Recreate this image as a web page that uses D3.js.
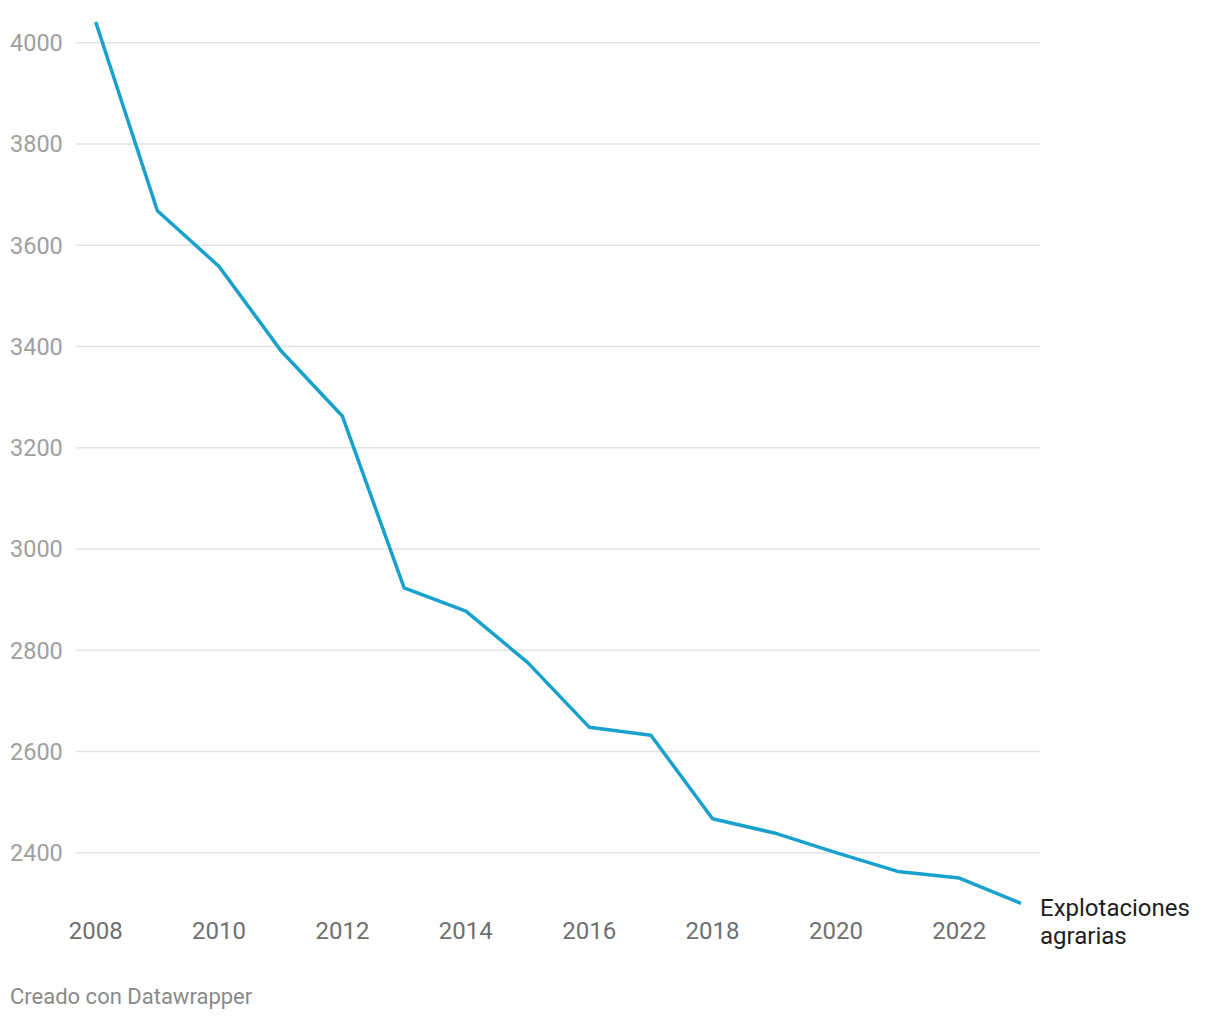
<!DOCTYPE html>
<html>
<head>
<meta charset="utf-8">
<script src="https://cdn.jsdelivr.net/npm/d3@7"></script>
<style>
  body { margin: 0; background: #fff; font-family: Roboto, "Noto Sans", sans-serif; }
  .ylab text { fill: #a0a0a0; }
  .xlab text { fill: #6f6f6f; }
</style>
</head>
<body>
<div id="chart"></div>
<script>
// explotaciones agrarias por año
var years = [2008, 2009, 2010, 2011, 2012, 2013, 2014, 2015, 2016, 2017, 2018, 2019, 2020, 2021, 2022, 2023];
var values = [4041, 3668, 3558, 3392, 3262, 2923, 2877, 2776, 2648, 2632, 2467, 2439, 2400, 2363, 2350, 2300];
var yTicks = [2400, 2600, 2800, 3000, 3200, 3400, 3600, 3800, 4000];
var xTicks = [2008, 2010, 2012, 2014, 2016, 2018, 2020, 2022];
var seriesName = ["Explotaciones", "agrarias"];

var width = 1220, height = 1020;
var svg = d3.select("#chart").append("svg")
    .attr("width", width)
    .attr("height", height);

var x = d3.scaleLinear().domain([2008, 2023]).range([95.7, 1021]);
var y = d3.scaleLinear().domain([2400, 4000]).range([852.7, 42.7]);

// grid lines + y labels
var ygrid = svg.append("g").attr("class", "ylab");
ygrid.selectAll("line").data(yTicks).enter().append("line")
    .attr("x1", 76).attr("x2", 1040)
    .attr("y1", function(d) { return y(d); })
    .attr("y2", function(d) { return y(d); })
    .attr("stroke", "#e3e3e3")
    .attr("stroke-width", 1.5);
ygrid.selectAll("text").data(yTicks).enter().append("text")
    .attr("x", 10)
    .attr("y", function(d) { return y(d) + 8.3; })
    .attr("font-size", 23.5)
    .text(function(d) { return d; });

// x labels
svg.append("g").attr("class", "xlab")
    .selectAll("text").data(xTicks).enter().append("text")
    .attr("x", function(d) { return x(d); })
    .attr("y", 938.5)
    .attr("text-anchor", "middle")
    .attr("font-size", 24)
    .text(function(d) { return d; });

// line
var line = d3.line()
    .x(function(d, i) { return x(years[i]); })
    .y(function(d) { return y(d); });

svg.append("path")
    .datum(values)
    .attr("d", line)
    .attr("fill", "none")
    .attr("stroke", "#18a1cd")
    .attr("stroke-width", 3.5)
    .attr("stroke-linejoin", "round");

// series label
var lbl = svg.append("text")
    .attr("x", x(2023) + 19)
    .attr("y", 915.5)
    .attr("font-size", 24)
    .attr("fill", "#1d1d1d");
lbl.selectAll("tspan").data(seriesName).enter().append("tspan")
    .attr("x", x(2023) + 19)
    .attr("dy", function(d, i) { return i ? 28 : 0; })
    .text(function(d) { return d; });

// footer
svg.append("text")
    .attr("x", 10)
    .attr("y", 1004)
    .attr("font-size", 22)
    .attr("fill", "#8a8a8a")
    .text("Creado con Datawrapper");
</script>
</body>
</html>
